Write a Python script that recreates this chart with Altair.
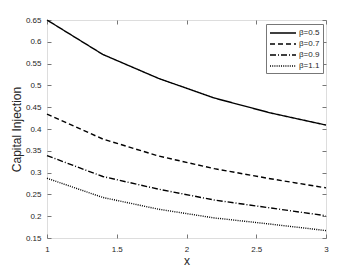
import altair as alt
import pandas as pd

xs = [1.0, 1.4, 1.8, 2.2, 2.6, 3.0]
b05 = [0.650, 0.571, 0.516, 0.471, 0.437, 0.409]
b07 = [0.434, 0.377, 0.338, 0.309, 0.286, 0.265]
b09 = [0.339, 0.291, 0.262, 0.237, 0.219, 0.201]
b11 = [0.287, 0.243, 0.216, 0.196, 0.182, 0.167]
names = ["β=0.5", "β=0.7", "β=0.9", "β=1.1"]
series = [b05, b07, b09, b11]

rows = []
for n, s in zip(names, series):
    for x, v in zip(xs, s):
        rows.append({"x": x, "y": v, "beta": n})
df = pd.DataFrame(rows)

xticks = [1, 1.5, 2, 2.5, 3]
yticks = [0.15, 0.2, 0.25, 0.3, 0.35, 0.4, 0.45, 0.5, 0.55, 0.6, 0.65]

font = "Liberation Sans"
grey = "#777777"

xscale = alt.Scale(domain=[1, 3], nice=False, zero=False)
yscale = alt.Scale(domain=[0.15, 0.65], nice=False, zero=False)

base = alt.Chart(df)

lines = base.mark_line(strokeWidth=1.4, color="black").encode(
    x=alt.X("x:Q", scale=xscale, title="x",
            axis=alt.Axis(orient="bottom", values=xticks, offset=-4, tickSize=4,
                          labelPadding=7, domain=False, tickColor=grey,
                          labelFontSize=8, labelColor="#262626", labelFont=font,
                          titleFont=font, titleFontSize=12, titleFontWeight="normal",
                          titleColor="#262626", titlePadding=2, grid=False,
                          labelFlush=False, format="~g")),
    y=alt.Y("y:Q", scale=yscale, title="Capital Injection",
            axis=alt.Axis(orient="left", values=yticks, offset=-4, tickSize=4,
                          labelPadding=6, domain=False, tickColor=grey,
                          labelFontSize=8, labelColor="#262626", labelFont=font,
                          titleFont=font, titleFontSize=12, titleFontWeight="normal",
                          titleColor="#262626", titlePadding=2, grid=False,
                          labelFlush=False, format=".2~f")),
    strokeDash=alt.StrokeDash("beta:N",
        scale=alt.Scale(domain=names, range=[[1, 0], [5, 3], [6, 2, 1, 2], [1, 1.2]]),
        legend=alt.Legend(title=None, orient="none", legendX=219, legendY=4,
                          symbolType="M-1,0H4.2", symbolSize=100, symbolStrokeWidth=1.5,
                          symbolStrokeColor="black",
                          labelFontSize=8, labelFont=font, labelColor="#262626",
                          labelOffset=18, rowPadding=1, padding=3,
                          strokeColor=grey, fillColor="white")),
)

mirror = base.mark_line(opacity=0).encode(
    x=alt.X("x:Q", scale=xscale, title=None,
            axis=alt.Axis(orient="top", values=xticks, offset=-4, tickSize=4,
                          labels=False, domain=False, tickColor=grey, grid=False)),
    y=alt.Y("y:Q", scale=yscale, title=None,
            axis=alt.Axis(orient="right", values=yticks, offset=-4, tickSize=4,
                          labels=False, domain=False, tickColor=grey, grid=False)),
    detail="beta:N",
)

chart = alt.layer(lines, mirror).resolve_axis(x="independent", y="independent").properties(
    width=279, height=218,
    autosize=alt.AutoSizeParams(type="none"),
    padding={"left": 39, "top": 12, "right": 20, "bottom": 30},
).configure_view(stroke=grey, strokeWidth=1).configure(background="white")

chart.save("out.html", embed_options={"renderer": "svg", "actions": False})
